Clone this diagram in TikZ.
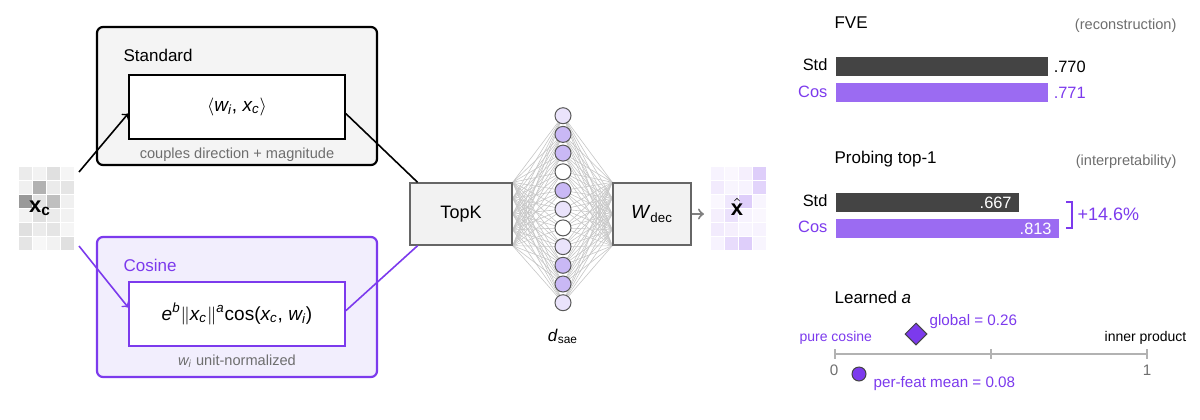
\documentclass[tikz,border=0pt]{standalone}
\usepackage{fontspec}
\setmainfont{Liberation Sans}
\usetikzlibrary{backgrounds,shapes.geometric,calc}
\definecolor{cpurple}{HTML}{7C3AED}
\definecolor{cbar}{HTML}{9B6BF2}
\definecolor{cdark}{HTML}{444444}
\definecolor{cgrey}{HTML}{6E6E6E}
\definecolor{cneuron}{HTML}{C9B8F5}
\definecolor{cneulight}{HTML}{EAE3FB}
\tikzset{every picture/.style={line width=0.6pt},
  outerbox/.style={draw,rounded corners=3pt,line width=1.1pt},
  innerbox/.style={draw,fill=white,line width=0.8pt,minimum width=108pt,minimum height=32pt,inner sep=0pt},
  opbox/.style={draw=gray!80!black,fill=gray!10,line width=0.7pt,minimum height=31pt,inner sep=0pt},
  neuron/.style={circle,draw=gray!70!black,line width=0.5pt,minimum size=8pt,inner sep=0pt},
  note/.style={text=cgrey,font=\fontsize{7.3}{8}\selectfont,inner sep=0.5pt},
  small/.style={inner sep=0.5pt,text=cpurple,font=\fontsize{7.6}{8}\selectfont},
  head/.style={font=\fontsize{8.5}{10}\selectfont,inner sep=0.5pt},
  lab/.style={font=\fontsize{8.2}{9}\selectfont,inner sep=0.5pt},
  bar/.style={inner sep=0pt,minimum height=9.5pt,anchor=west}}

\begin{document}
\begin{tikzpicture}[x=0.5pt,y=0.5pt,yscale=-1,xscale=1]
\useasboundingbox (0,0) rectangle (1200,419);

% input and output grids
\foreach \c [count=\i from 0] in {8,5,12,4, 6,30,8,10, 40,10,25,6, 5,12,8,5, 12,8,10,4, 10,3,5,12}{
  \pgfmathtruncatemacro{\col}{mod(\i,4)}
  \pgfmathtruncatemacro{\row}{div(\i,4)}
  \fill [black!\c] (19+14*\col,167+14*\row) rectangle ++(13,13);
}
\foreach \c [count=\i from 0] in {6,4,8,25, 10,5,6,22, 4,12,25,5, 8,15,6,4, 10,8,5,6, 6,18,25,5}{
  \pgfmathtruncatemacro{\col}{mod(\i,4)}
  \pgfmathtruncatemacro{\row}{div(\i,4)}
  \fill [cpurple!\c!white] (711+14*\col,167+14*\row) rectangle ++(13,13);
}
\node (xc) at (40,208) {\fontsize{11}{12}\selectfont\textbf{x\textsubscript{c}}};
\node (xhat) at (737,207) {\fontsize{11}{12}\selectfont$\hat{\mathbf{x}}$};
\coordinate (xsrc1) at (79,172);
\coordinate (xsrc2) at (79,246);
\coordinate (xin) at (704,214);

% two encoders
\draw [outerbox,fill=gray!9] (97,27) rectangle (377,165);
\draw [outerbox,draw=cpurple,fill=cneulight!60] (97,237) rectangle (377,377);
\node [head,anchor=west] (stdtitle) at (122,55) {Standard};
\node [head,anchor=west,text=cpurple] (costitle) at (122,265) {Cosine};
\node [innerbox] (stdin) at (237,107) {\fontsize{9.5}{10}\selectfont$\langle$\textit{w\textsubscript{i}}, \textit{x\textsubscript{c}}$\rangle$};
\node [innerbox,draw=cpurple] (cosin) at (237,314) {\fontsize{9.5}{10}\selectfont\textit{e}\textsuperscript{\textit{b}}$\|$\textit{x\textsubscript{c}}$\|$\textsuperscript{\textit{a}}cos(\textit{x\textsubscript{c}}, \textit{w\textsubscript{i}})};
\node [note] (stdnote) at (237,155) {couples direction + magnitude};
\node [note] (cosnote) at (237,361) {\textit{w\textsubscript{i}} unit-normalized};

\node [opbox,minimum width=51pt] (topk) at (461,214) {\fontsize{9}{10}\selectfont TopK};
\node [opbox,minimum width=39pt] (wdec) at (652,214) {\fontsize{9.5}{10}\selectfont\textit{W}\textsubscript{dec}};

\draw [->,line width=0.8pt] (xsrc1) -- ($(stdin.north west)!0.6!(stdin.south west)$);
\draw [->,line width=0.8pt,cpurple] (xsrc2) -- ($(cosin.north west)!0.4!(cosin.south west)$);
\draw [line width=0.8pt] ($(stdin.north east)!0.6!(stdin.south east)$) -- ($(topk.north west)!0.08!(topk.north east)$);
\draw [line width=0.8pt,cpurple] ($(cosin.north east)!0.45!(cosin.south east)$) -- ($(topk.south west)!0.08!(topk.south east)$);
\draw [->,gray,line width=1pt] (wdec) -- (xin);

% hidden layer
\foreach \k/\f in {1/cneulight,2/cneuron,3/cneuron,4/white,5/cneuron,6/cneulight,7/white,8/cneulight,9/cneuron,10/cneuron,11/cneulight}{
  \node [neuron,fill=\f] (n\k) at (563,97+18.7*\k) {};
}
\node [font=\fontsize{8.5}{9}\selectfont] (dsae) at (563,336) {\textit{d}\textsubscript{sae}};
\begin{scope}[on background layer]
\foreach \k in {1,...,11}{
  \foreach \p in {0,0.25,0.5,0.75,1}{
    \draw [gray!45,line width=0.3pt] ($(topk.north east)!\p!(topk.south east)$) -- (n\k.center);
    \draw [gray!45,line width=0.3pt] (n\k.center) -- ($(wdec.north west)!\p!(wdec.south west)$);
  }
}
\end{scope}

% FVE
\node [head,anchor=west] (fve) at (833,23) {FVE};
\node [note,anchor=east] (recon) at (1178,26) {(reconstruction)};
\node [lab,anchor=east] (s1) at (829,65) {Std};
\node [lab,anchor=east,text=cpurple] (c1) at (829,92) {Cos};
\node [bar,fill=cdark,minimum width=106pt] (bs1) at (835,66.5) {};
\node [bar,fill=cbar,minimum width=106pt] (bc1) at (835,92.5) {};
\node [lab,anchor=west] (v1) at ([xshift=2]bs1.east) {.770};
\node [lab,anchor=west,text=cpurple] (v2) at ([xshift=2]bc1.east) {.771};

% probing
\node [head,anchor=west] (probe) at (833,159) {Probing top-1};
\node [note,anchor=east] (interp) at (1178,162) {(interpretability)};
\node [lab,anchor=east] (s2) at (829,201) {Std};
\node [lab,anchor=east,text=cpurple] (c2) at (829,227) {Cos};
\node [bar,fill=cdark,minimum width=91.5pt] (bs2) at (835,202.5) {};
\node [bar,fill=cbar,minimum width=111.5pt] (bc2) at (835,228.5) {};
\node [lab,anchor=east,text=white] (v3) at ([xshift=-3]bs2.east) {.667};
\node [lab,anchor=east,text=white] (v4) at ([xshift=-3]bc2.east) {.813};
\coordinate (brtop) at (1066,202);
\coordinate (brbot) at (1066,228);
\draw [cpurple,line width=1pt] (brtop) -| (1072,228) -- (brbot);
\node [lab,anchor=west,text=cpurple,font=\fontsize{9}{10}\selectfont] (gain) at (1076,214) {+14.6\%};

% learned a
\node [head,anchor=west] (learned) at (833,297) {Learned \textit{a}};
\coordinate (ax0) at (835,354);
\coordinate (ax1) at (1147,354);
\draw [gray!60,line width=0.8pt] (ax0) -- (ax1);
\foreach \t in {835,991,1147}{ \draw [gray!60,line width=0.8pt] (\t,349) -- (\t,359); }
\node [small,text=cgrey] (zero) at (834,370) {0};
\node [small,text=cgrey] (one) at (1147,370) {1};
\node [small,anchor=west,font=\fontsize{7}{8}\selectfont] (pure) at (798,338) {pure cosine};
\node [small,anchor=east,text=black,font=\fontsize{7}{8}\selectfont] (inner) at (1188,338) {inner product};
\node [diamond,draw=cdark,fill=cpurple,line width=0.5pt,minimum size=11pt,inner sep=0pt] (glob) at (916,334) {};
\node [small,anchor=west] (globlab) at (928,322) {global = 0.26};
\node [circle,draw=cdark,fill=cpurple,line width=0.5pt,minimum size=7pt,inner sep=0pt] (pf) at (859,374) {};
\node [small,anchor=west] (pflab) at (872,384) {per-feat mean = 0.08};
\end{tikzpicture}
\end{document}
